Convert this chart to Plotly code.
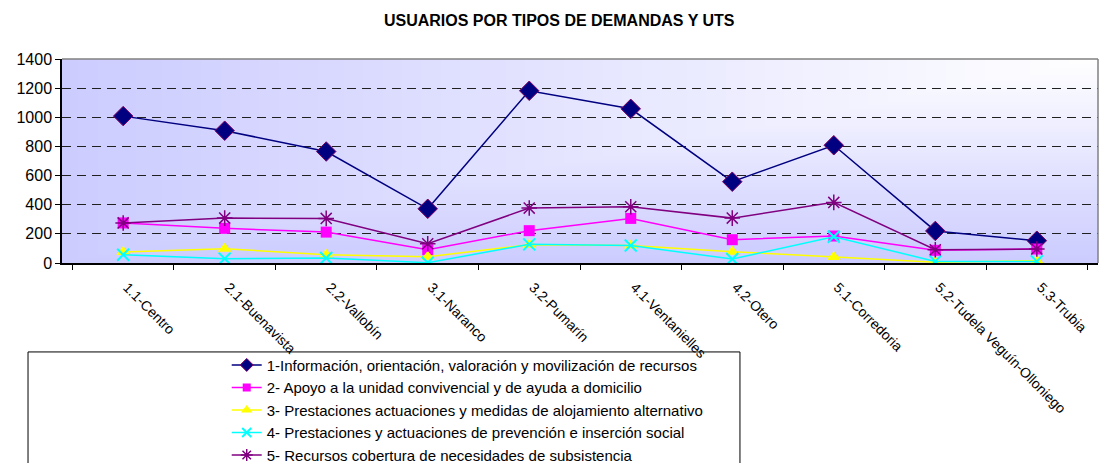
import base64
import struct
import zlib

import plotly.graph_objects as go

uts = ["1.1-Centro", "2.1-Buenavista", "2.2-Vallobín", "3.1-Naranco", "3.2-Pumarín",
       "4.1-Ventanielles", "4.2-Otero", "5.1-Corredoria", "5.2-Tudela Veguín-Olloniego",
       "5.3-Trubia"]

info = [1008, 908, 765, 372, 1182, 1058, 558, 808, 220, 153]
apoyo = [275, 238, 212, 91, 222, 306, 160, 185, 87, 96]
alojamiento = [75, 98, 57, 43, 125, 120, 78, 41, 6, 16]
prevencion = [57, 30, 34, 2, 128, 120, 27, 180, 11, 11]
subsistencia = [275, 308, 306, 132, 377, 386, 308, 416, 91, 96]

names = [
    "1-Información, orientación, valoración y movilización de recursos",
    "2- Apoyo a la unidad convivencial y de ayuda a domicilio",
    "3- Prestaciones actuaciones y medidas de alojamiento alternativo",
    "4- Prestaciones y actuaciones de prevención e inserción social",
    "5- Recursos cobertura de necesidades de subsistencia",
]


def gradient_png(w, h):
    # excel-like "from corner" fill: white top right, lavender elsewhere
    lo = (204, 204, 255)
    rows = b""
    for j in range(h):
        row = b"\x00"
        v = j / (h - 1)
        for i in range(w):
            u = i / (w - 1)
            t = max(1 - u, v)
            c = [round(255 + (lo[k] - 255) * t) for k in range(3)]
            row += bytes(c)
        rows += row

    def chunk(tag, data):
        return struct.pack(">I", len(data)) + tag + data + struct.pack(">I", zlib.crc32(tag + data) & 0xffffffff)

    png = b"\x89PNG\r\n\x1a\n"
    png += chunk(b"IHDR", struct.pack(">IIBBBBB", w, h, 8, 2, 0, 0, 0))
    png += chunk(b"IDAT", zlib.compress(rows))
    png += chunk(b"IEND", b"")
    return "data:image/png;base64," + base64.b64encode(png).decode()


fig = go.Figure()

# (values, colour, symbol, plot size, legend size, outline)
styles = [
    (info, "#000080", "diamond", 15, 10, dict(color="#800060", width=1)),
    (apoyo, "#FF00FF", "square", 11, 8, dict(width=0)),
    (alojamiento, "#FFFF00", "triangle-up", 12, 10, dict(width=0)),
    (prevencion, "#00FFFF", "x-thin-open", 12, 9, dict(color="#00FFFF", width=2)),
    (subsistencia, "#800080", "asterisk-open", 13, 10, dict(color="#800080", width=1.5)),
]

for (vals, col, sym, size, lsize, outline), nm in zip(styles, names):
    fig.add_trace(go.Scatter(x=uts, y=vals, name=nm, mode="lines+markers",
                             line=dict(color=col, width=1.5),
                             marker=dict(symbol=sym, size=size, color=col, line=outline),
                             showlegend=False))

# legend entries with smaller symbols, like the original
for (vals, col, sym, size, lsize, outline), nm in zip(styles, names):
    fig.add_trace(go.Scatter(x=[None], y=[None], name=nm, mode="lines+markers",
                             line=dict(color=col, width=1.5),
                             marker=dict(symbol=sym, size=lsize, color=col, line=outline)))

fig.update_layout(
    width=1103, height=463,
    margin=dict(l=62, r=5, t=59, b=200, autoexpand=False),
    paper_bgcolor="white",
    plot_bgcolor="rgba(0,0,0,0)",
    font=dict(family="Liberation Sans, Arial", color="black"),
    title=dict(text="<b>USUARIOS POR TIPOS DE DEMANDAS Y UTS</b>", x=0.507, xanchor="center",
               y=0.957, yanchor="middle", font=dict(size=16)),
    images=[dict(source=gradient_png(160, 60), xref="paper", yref="paper", x=0, y=1,
                 sizex=1, sizey=1, sizing="stretch", xanchor="left", yanchor="top",
                 layer="below")],
    showlegend=True,
    legend=dict(x=0.159, y=-0.42, xanchor="left", yanchor="top", bgcolor="rgba(0,0,0,0)",
                font=dict(size=15), itemwidth=30),
    shapes=[
        dict(type="rect", xref="paper", yref="paper", x0=-0.0328, x1=0.6544, y0=-0.436, y1=-1.2,
             line=dict(color="black", width=1), fillcolor="rgba(0,0,0,0)"),
        dict(type="line", xref="paper", yref="paper", x0=0, x1=1, y0=1, y1=1,
             line=dict(color="#808080", width=1.5)),
        dict(type="line", xref="paper", yref="paper", x0=1, x1=1, y0=0, y1=1,
             line=dict(color="#808080", width=1.5)),
    ],
)

fig.update_xaxes(type="category", showline=True, linecolor="black", linewidth=1.5,
                 ticks="outside", tickson="boundaries", ticklen=5, tickcolor="black",
                 tickangle=45, tickfont=dict(size=14), ticklabelstandoff=9,
                 ticklabelshift=4, showgrid=False, zeroline=False)
fig.update_yaxes(range=[0, 1400], dtick=200, showline=True, linecolor="black", linewidth=1.5,
                 ticks="outside", ticklen=5, tickcolor="black", tickfont=dict(size=16),
                 showgrid=True, gridcolor="#202020", griddash="9px,6px", gridwidth=1,
                 zeroline=False)

# the page has a default 8px body margin; drop it so the figure sits at the corner
fig.write_html("out.html", config={"displayModeBar": False},
               post_script="document.body.style.margin='0';")
